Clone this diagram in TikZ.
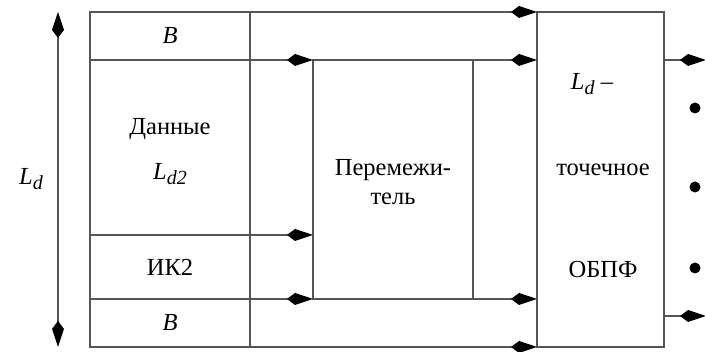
\documentclass[tikz,border=0pt]{standalone}
\usepackage{fontspec}
\setmainfont{Liberation Serif}
\usetikzlibrary{arrows.meta,calc}
\definecolor{linegray}{RGB}{85,85,85}
\tikzset{
  cell/.style={draw=linegray, line width=1.6pt, inner sep=0pt, outer sep=0pt, anchor=north west},
  tipk/.tip={Kite[length=26pt,width=12pt,inset=8pt,color=black,fill=black]},
  arr/.style={draw=linegray, line width=1.6pt, -tipk},
  dblarr/.style={draw=linegray, line width=1.6pt, tipk-tipk},
  lbl/.style={font=\fontsize{24.5}{29}\selectfont, inner sep=0pt},
  dot/.style={circle, fill=black, inner sep=0pt, minimum size=11pt}
}
\newcommand{\Lsub}[1]{\textit{L}\raisebox{-0.45ex}{\fontsize{20}{24}\selectfont\textit{#1}}}
\begin{document}
\begin{tikzpicture}[x=1pt,y=-1pt]
\useasboundingbox (0,0) rectangle (705,352);
% left column of frame fields
\node[cell, minimum width=160pt, minimum height=48pt] (b1) at (90,12) {};
\node[cell, minimum width=160pt, minimum height=175pt] (data) at (90,60) {};
\node[cell, minimum width=160pt, minimum height=64pt] (ik) at (90,235) {};
\node[cell, minimum width=160pt, minimum height=48pt] (b2) at (90,299) {};
% interleaver and FFT blocks
\node[cell, minimum width=160pt, minimum height=239pt] (inter) at (313,60) {};
\node[cell, minimum width=127pt, minimum height=335pt] (fft) at (537,12) {};
% labels
\node[lbl] (tb1) at (170,36) {\textit{B}};
\node[lbl] (tdata) at (170,129) {Данные};
\node[lbl] (tld2) at (170,174) {\Lsub{d2}};
\node[lbl] (tik) at (170,267) {ИК2};
\node[lbl] (tb2) at (170,323) {\textit{B}};
\node[lbl] (tint1) at (393,170) {Перемежи-};
\node[lbl] (tint2) at (393,199) {тель};
\node[lbl] (tfft1) at (592,84) {\Lsub{d} –};
\node[lbl] (tfft2) at (603,170) {точечное};
\node[lbl] (tfft3) at (603,270) {ОБПФ};
% connectors
\draw[arr] (b1.north east) -- (fft.north west);
\draw[arr] (b1.south east) -- (inter.north west);
\draw[arr] (inter.north east) -- (inter.north east -| fft.west);
\draw[arr] (data.south east) -- (data.south east -| inter.west);
\draw[arr] (ik.south east) -- (inter.south west);
\draw[arr] (inter.south east) -- (inter.south east -| fft.west);
\draw[arr] (b2.south east) -- (fft.south west);
% outputs
\coordinate (out1) at (706,60);
\coordinate (out2) at (706,316);
\draw[arr] (out1 -| fft.east) -- (out1);
\draw[arr] (out2 -| fft.east) -- (out2);
\node[dot] (d1) at (695,108) {};
\node[dot] (d2) at (695,187) {};
\node[dot] (d3) at (695,268) {};
% length of the symbol
\coordinate (ldtop) at (58,12);
\coordinate (ldbot) at (58,347);
\draw[dblarr] (ldtop) -- (ldbot);
\node[lbl] (tld) at (31,179) {\Lsub{d}};
\end{tikzpicture}
\end{document}
